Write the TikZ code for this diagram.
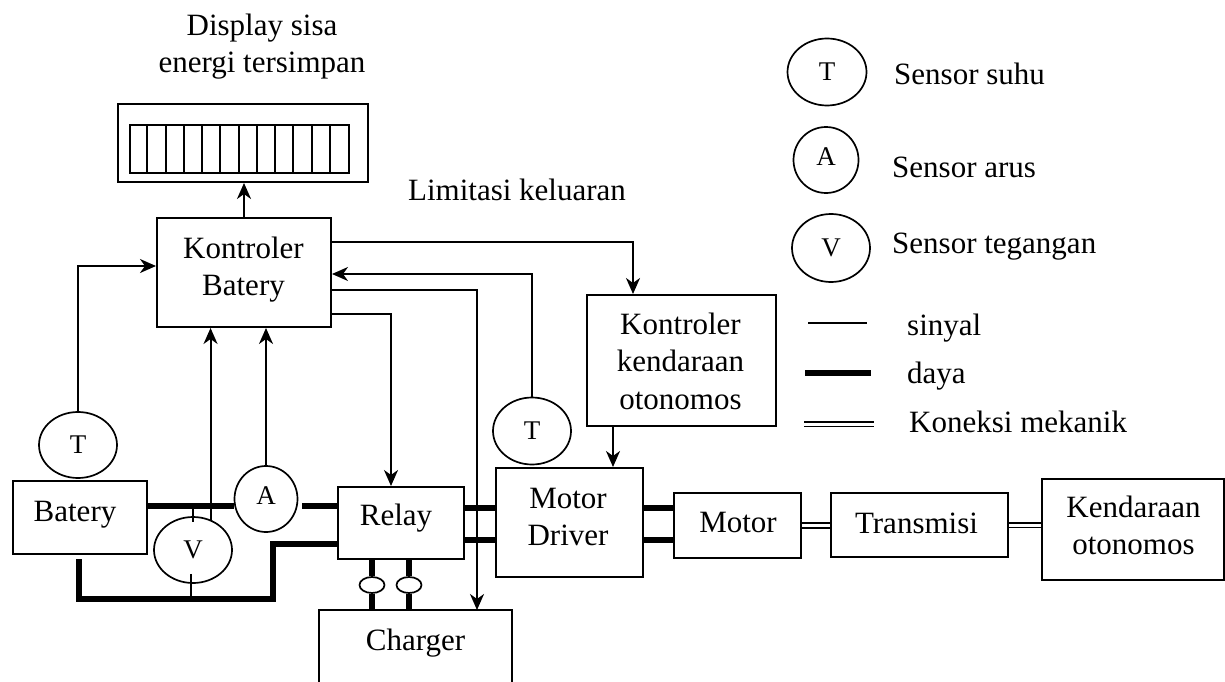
\documentclass[tikz,border=0pt]{standalone}
\usepackage{fontspec}
\setmainfont{Liberation Serif}
\usetikzlibrary{shapes.geometric,arrows.meta,calc}
\begin{document}
\begin{tikzpicture}[x=1pt,y=-1pt,
  every node/.style={font=\fontsize{31}{37.5}\selectfont},
  blk/.style={draw,line width=2pt,rectangle,inner sep=0pt},
  cellbox/.style={draw,line width=1.8pt,rectangle,inner sep=0pt},
  cellln/.style={line width=1.8pt},
  sensr/.style={draw,ellipse,line width=1.7pt,inner sep=0pt,font=\fontsize{27}{27}\selectfont},
  fusel/.style={draw,ellipse,line width=1.7pt,inner sep=0pt,fill=white,minimum width=25,minimum height=16},
  txt/.style={inner sep=0pt,align=center},
  sigl/.style={line width=2pt},
  framel/.style={line width=2pt},
  pwrl/.style={line width=5.5pt},
  mechl/.style={double,double distance=3pt,line width=1.8pt},
  arrw/.style={-{Stealth[length=16pt,width=14pt,inset=5pt]}}]
\useasboundingbox (0,0) rectangle (1225,682);

% display
\node[txt] (title) at (262,46.4) {Display sisa\\energi tersimpan};
\node[blk,minimum width=250,minimum height=78] (disp) at (243,143) {};
\node[cellbox,minimum width=219,minimum height=48] (cells) at (239.5,149) {};
\foreach \i in {1,...,11}
  \draw[cellln] ($(cells.north west)+(\i*18.25,0)$) -- ($(cells.south west)+(\i*18.25,0)$);

% boxes
\node[blk,minimum width=174,minimum height=109] (kb) at (244,272.5) {};
\node[txt] (kbt) at (243.5,269.4) {Kontroler\\Batery};
\node[blk,minimum width=189,minimum height=131] (kko) at (681.5,360.5) {};
\node[txt] (kkot) at (680.5,361.2) {Kontroler\\kendaraan\\otonomos};
\node[blk,minimum width=134,minimum height=73] (bat) at (80,517.5) {};
\node[txt,anchor=base] (batt) at (75,521.7) {Batery};
\node[blk,minimum width=126,minimum height=72] (relay) at (401,523) {};
\node[txt,anchor=base] (relayt) at (396,525) {Relay};
\node[blk,minimum width=147,minimum height=109] (md) at (569.5,522.5) {};
\node[txt] (mdt) at (568,517) {Motor\\Driver};
\node[blk,minimum width=127,minimum height=65] (motor) at (737.5,525.5) {};
\node[txt,anchor=base] (motort) at (738,532) {Motor};
\node[blk,minimum width=177,minimum height=64] (trans) at (919.5,525) {};
\node[txt,anchor=base] (transt) at (916.5,533) {Transmisi};
\node[blk,minimum width=182,minimum height=101] (kend) at (1133,529.5) {};
\node[txt] (kendt) at (1133.5,525.4) {Kendaraan\\otonomos};

% charger (open at bottom)
\node[txt,anchor=base] (charger) at (415.5,650.7) {Charger};
\coordinate (chTL) at (319,610);
\coordinate (chTR) at (512,610);
\coordinate (chBL) at (319,682);
\coordinate (chBR) at (512,682);
\draw[framel] (chBL) -- (chTL) -- (chTR) -- (chBR);

% sensors
\node[sensr,minimum width=78,minimum height=66] (tb) at (78,445) {T};
\node[sensr,minimum width=63,minimum height=66,text depth=6pt] (sa) at (266,499) {A};
\node[sensr,minimum width=78,minimum height=66] (sv) at (193,550) {V};
\node[sensr,minimum width=78,minimum height=67] (tm) at (532,431) {T};

% legend
\node[sensr,minimum width=79,minimum height=67] (lt) at (827,72) {T};
\node[sensr,minimum width=65,minimum height=66,text depth=6pt] (la) at (826,160) {A};
\node[sensr,minimum width=78,minimum height=68] (lv) at (831,248) {V};
\node[txt,anchor=base west] (ltt) at (894,85) {Sensor suhu};
\node[txt,anchor=base west] (lat) at (892,177) {Sensor arus};
\node[txt,anchor=base west] (lvt) at (892,253) {Sensor tegangan};
\node[txt,anchor=base west] (lsig) at (907,335) {sinyal};
\node[txt,anchor=base west] (lpwr) at (907,383) {daya};
\node[txt,anchor=base west] (lmech) at (909,432) {Koneksi mekanik};
\coordinate (ls1) at (808,323); \coordinate (ls2) at (867,323);
\coordinate (lp1) at (805,373); \coordinate (lp2) at (871,373);
\coordinate (lm1) at (804,424); \coordinate (lm2) at (874,424);
\draw[sigl] (ls1) -- (ls2);
\draw[pwrl] (lp1) -- (lp2);
\draw[mechl] (lm1) -- (lm2);

\node[txt,anchor=base] (limit) at (517,200) {Limitasi keluaran};

% fuses
\node[fusel] (f1) at (372,585) {};
\node[fusel] (f2) at (409,585) {};

% helper coordinates
\coordinate (c266) at (0,266);
\coordinate (c242) at (633,242);
\coordinate (c274) at (0,274);
\coordinate (c290) at (477,290);
\coordinate (c314) at (391,314);
\coordinate (c613) at (613,0);
\coordinate (c506) at (0,506);
\coordinate (c508) at (0,508);
\coordinate (c540) at (0,540);
\coordinate (c544) at (0,544);
\coordinate (c599) at (273,599);
\coordinate (saE) at ([xshift=4pt]sa.east);
\coordinate (bs) at ([xshift=-1pt,yshift=-4pt]bat.south);

% signal connectors
\draw[sigl,arrw] (kb.north) -- (kb.north |- disp.south);
\draw[sigl,arrw] (tb.north) |- (kb.west |- c266);
\draw[sigl,arrw] (kb.east |- c242) -| (kko.north -| c242);
\draw[sigl,arrw] (tm.north) |- (kb.east |- c274);
\draw[sigl,arrw] (kb.east |- c290) -| (chTL -| c290);
\draw[sigl,arrw] (kb.east |- c314) -| (relay.north -| c314);
\draw[sigl,arrw] (sa.north) -- (sa.north |- kb.south);
\draw[sigl,arrw] (sv.60) -- (sv.60 |- kb.south);
\draw[sigl,arrw] (kko.south -| c613) -- (md.north -| c613);
\draw[sigl] ([yshift=10pt]sv.north) -- ([yshift=-6pt]sv.north);
\draw[sigl] ([xshift=-2pt,yshift=10pt]sv.south) -- ([xshift=-2pt,yshift=-12pt]sv.south);

% power connectors
\draw[pwrl] (bat.east |- c506) -- (sa.west |- c506);
\draw[pwrl] (saE |- c506) -- (relay.west |- c506);
\draw[pwrl] (bs) |- (c599) |- (relay.west |- c544);
\draw[pwrl] (relay.east |- c508) -- (md.west |- c508);
\draw[pwrl] (relay.east |- c540) -- (md.west |- c540);
\draw[pwrl] (md.east |- c508) -- (motor.west |- c508);
\draw[pwrl] (md.east |- c540) -- (motor.west |- c540);
\draw[pwrl] (relay.south -| f1) -- (f1.north);
\draw[pwrl] (f1.south) -- (f1.south |- chTL);
\draw[pwrl] (relay.south -| f2) -- (f2.north);
\draw[pwrl] (f2.south) -- (f2.south |- chTL);

% mechanical connectors
\draw[mechl] (motor.east) -- (trans.west |- motor.east);
\draw[mechl] (trans.east) -- (kend.west |- trans.east);
\end{tikzpicture}
\end{document}
